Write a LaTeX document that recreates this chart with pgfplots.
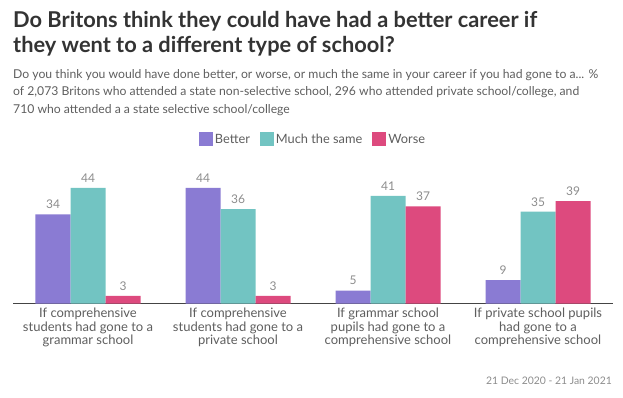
\documentclass[border=0pt]{standalone}
\usepackage{pgfplots}
\pgfplotsset{compat=1.18}
\usepackage{fontspec}
\setmainfont{Lato}
\definecolor{cBetter}{HTML}{8A7BD3}
\definecolor{cSame}{HTML}{72C4C2}
\definecolor{cWorse}{HTML}{DD4A7E}
\definecolor{titlec}{HTML}{333333}
\definecolor{subc}{HTML}{5E5E5E}
\definecolor{numc}{HTML}{8C8C8C}
\definecolor{axc}{HTML}{444444}
\begin{document}
\begin{tikzpicture}
\path[use as bounding box] (0,0) rectangle (623bp,-398bp);
\node[anchor=north west, align=left, text=titlec, font=\fontsize{21.8bp}{25.5bp}\selectfont\bfseries, inner sep=0pt] at (13bp,-11bp)
{Do Britons think they could have had a better career if\\they went to a different type of school?};
\node[anchor=north west, align=left, text=subc, font=\fontsize{12.2bp}{17.5bp}\selectfont, inner sep=0pt] at (13bp,-69bp)
{Do you think you would have done better, or worse, or much the same in your career if you had gone to a... \%\\of 2,073 Britons who attended a state non-selective school, 296 who attended private school/college, and\\710 who attended a a state selective school/college};
\node[anchor=east, text=numc, font=\fontsize{10.4bp}{11bp}\selectfont, inner sep=0pt] at (612bp,-381bp) {21 Dec 2020 - 21 Jan 2021};
\begin{axis}[
  at={(13bp,-303.7bp)}, anchor=south west,
  scale only axis, width=600bp, height=131.5bp,
  xmin=-0.5, xmax=3.5, ymin=0, ymax=50,
  ybar=0pt, bar width=35bp,
  axis x line*=bottom, hide y axis,
  x axis line style={draw=axc, line width=0.9pt, -},
  xtick={0,1,2,3}, major tick length=0pt,
  xticklabels={{If comprehensive\\students had gone to a\\grammar school},{If comprehensive\\students had gone to a\\private school},{If grammar school\\pupils had gone to a\\comprehensive school},{If private school pupils\\had gone to a\\comprehensive school}},
  xticklabel style={align=center, text=subc, font=\fontsize{13bp}{13.5bp}\selectfont, yshift=-1bp},
  /pgf/number format/assume math mode=true,
  nodes near coords,
  every node near coord/.append style={text=numc, font=\fontsize{12bp}{12bp}\selectfont, yshift=2bp},
  legend columns=-1,
  legend style={at={(axis description cs:0.5,1.251)}, anchor=center, draw=none, fill=none, font=\fontsize{12.8bp}{12bp}\selectfont, text=subc,
    nodes={inner xsep=2bp},
    /tikz/every even column/.append style={column sep=8bp}},
  legend image code/.code={\fill[#1] (-7bp,-6.5bp) rectangle (7bp,7bp);},
]
\addplot[fill=cBetter, draw=none] coordinates {(0,34) (1,44) (2,5) (3,9)};
\addplot[fill=cSame, draw=none] coordinates {(0,44) (1,36) (2,41) (3,35)};
\addplot[fill=cWorse, draw=none] coordinates {(0,3) (1,3) (2,37) (3,39)};
\legend{Better, Much the same, Worse}
\end{axis}
\end{tikzpicture}
\end{document}
